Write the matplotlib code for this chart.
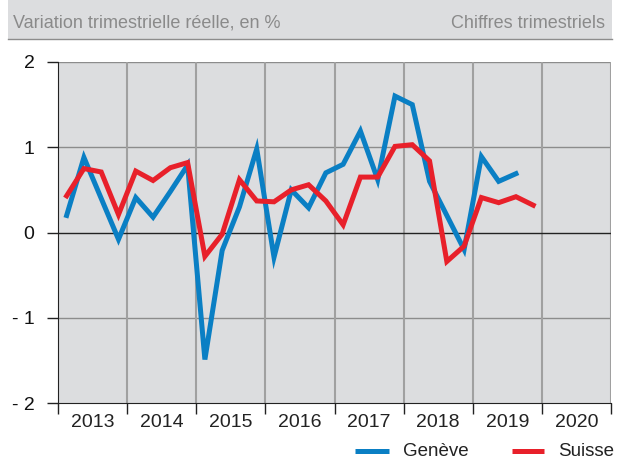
import numpy as np
import matplotlib.pyplot as plt
from matplotlib.lines import Line2D
from matplotlib.patches import Rectangle

plt.rcParams['font.family'] = ['Liberation Sans', 'DejaVu Sans']

years = ['2013', '2014', '2015', '2016', '2017', '2018', '2019', '2020']

# quarterly change, 2013 Q1 onwards
geneve = [0.20, 0.88, 0.40, -0.08, 0.41, 0.18, 0.48, 0.79,
          -1.49, -0.21, 0.30, 0.98, -0.29, 0.50, 0.29, 0.70,
          0.80, 1.19, 0.62, 1.60, 1.50, 0.60, 0.20, -0.20,
          0.89, 0.60, 0.69]
suisse = [0.43, 0.75, 0.71, 0.21, 0.72, 0.61, 0.76, 0.82,
          -0.28, -0.02, 0.62, 0.37, 0.36, 0.50, 0.56, 0.37,
          0.09, 0.65, 0.65, 1.01, 1.03, 0.84, -0.34, -0.16,
          0.41, 0.35, 0.42, 0.32]

blue = '#0a7fc4'
red = '#e8202a'
grey_bg = '#dcdddf'
W, H = 628, 459


def fx(px):
    return px / W


def fy(py):
    return 1 - py / H


fig = plt.figure(figsize=(W / 100, H / 100), dpi=100)

# header band
fig.patches.append(Rectangle((fx(8), fy(39)), fx(612 - 8), 39 / H, transform=fig.transFigure,
                             facecolor=grey_bg, edgecolor='none', zorder=0))
fig.add_artist(Line2D([fx(8), fx(612)], [fy(39)] * 2, transform=fig.transFigure,
                      color='#8c8c8c', lw=1.0))
fig.text(fx(13), fy(23), 'Variation trimestrielle réelle, en %', color='#8a8a8a',
         fontsize=13, va='center', ha='left')
fig.text(fx(605), fy(23), 'Chiffres trimestriels', color='#8a8a8a',
         fontsize=13, va='center', ha='right')

ax = fig.add_axes([fx(58), fy(403), fx(611 - 58), (403 - 62) / H])
ax.set_facecolor(grey_bg)

xg = np.arange(len(geneve)) + 0.5
xs = np.arange(len(suisse)) + 0.5

ax.axhline(0, color='#222222', lw=1.0, zorder=2)
for yv in [1, -1, 2]:
    ax.axhline(yv, color='#8c8c8c', lw=1.0, zorder=1)
for k in range(1, 9):
    ax.axvline(4 * k, color='#a0a0a0', lw=1.5, zorder=1)

ax.plot(xg, geneve, color=blue, lw=3.6, zorder=3, solid_joinstyle='miter')
ax.plot(xs, suisse, color=red, lw=3.6, zorder=3, solid_joinstyle='miter')

ax.set_xlim(0, 32)
ax.set_ylim(-2, 2)

for s in ['top', 'right']:
    ax.spines[s].set_visible(False)
ax.spines['left'].set_color('#222222')
ax.spines['bottom'].set_color('#222222')

ax.set_yticks([2, 1, 0, -1, -2])
ax.set_yticklabels(['2', '1', '0', '- 1', '- 2'], fontsize=14, color='#111111')
ax.tick_params(axis='y', direction='out', length=8, width=1, color='#222222', pad=9)

ax.set_xticks(np.arange(0, 33, 4))
ax.set_xticklabels([])
ax.set_xticks(np.arange(2, 32, 4), minor=True)
ax.set_xticklabels(years, minor=True, fontsize=14, color='#222222')
ax.tick_params(axis='x', which='major', direction='out', length=8, width=1, color='#222222')
ax.tick_params(axis='x', which='minor', length=0, pad=8)

# legend below the plot, drawn by hand
for x0, x1, col, name in [(355, 389, blue, 'Genève'), (512, 544, red, 'Suisse')]:
    fig.add_artist(Line2D([fx(x0), fx(x1)], [fy(451)] * 2, transform=fig.transFigure,
                          color=col, lw=3.6, solid_capstyle='butt'))
    fig.text(fx(x1 + 14), fy(451), name, fontsize=13.5, color='#222222',
             va='center', ha='left')

fig.savefig('out.png', dpi=100, facecolor='white')
